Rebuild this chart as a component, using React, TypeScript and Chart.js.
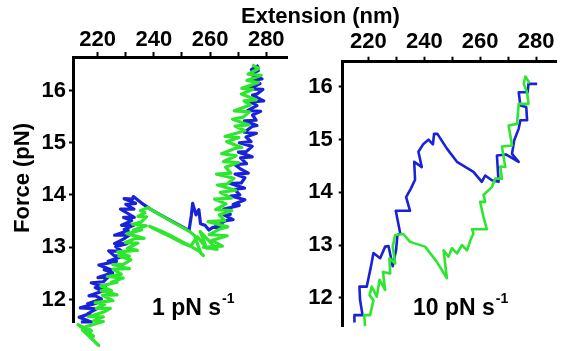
import React, { useEffect, useRef } from 'react';
import Chart from 'chart.js/auto';

const FONT = '"Liberation Sans", Arial, Helvetica, sans-serif';
const BLUE = '#1a22d8';
const GREEN = '#2ee62e';

const xTickValues = [220, 230, 240, 250, 260, 270, 280];
const yTickValues = [12, 13, 14, 15, 16];
const xTitle = 'Extension (nm)';
const yTitle = 'Force (pN)';
const slowLabel = '1 pN s';
const fastLabel = '10 pN s';
const supLabel = '-1';

// Left panel (1 pN/s): [extension nm, force pN]
const slowBlue: [number, number][] = [
  [214.0, 11.57], [217.7, 11.57], [213.4, 11.66], [217.2, 11.73], [216.5, 11.73], [219.6, 11.82], [213.8, 11.84], [219.5, 11.93],
  [216.4, 11.92], [221.3, 12.01], [219.2, 12.07], [216.9, 12.07], [221.6, 12.16], [219.1, 12.23], [222.8, 12.23], [217.7, 12.32],
  [222.0, 12.34], [223.7, 12.43], [220.1, 12.42], [225.3, 12.51], [222.3, 12.57], [224.7, 12.57], [220.4, 12.66], [226.7, 12.73],
  [223.7, 12.73], [228.4, 12.82], [225.8, 12.84], [223.9, 12.93], [228.7, 12.92], [226.4, 13.01], [230.4, 13.07], [226.0, 13.07],
  [229.3, 13.16], [231.2, 13.23], [226.0, 13.23], [230.9, 13.32], [229.4, 13.34], [233.1, 13.43], [228.5, 13.42], [232.1, 13.51],
  [229.2, 13.57], [233.0, 13.57], [230.3, 13.66], [228.1, 13.73], [232.9, 13.73], [230.0, 13.82], [233.5, 13.84], [229.4, 13.93],
  [232.4, 13.92], [232.7, 13.97],
  [235.5, 13.85], [239.0, 13.72], [243.0, 13.6], [247.0, 13.48], [250.5, 13.38], [252.5, 13.32], [253.3, 13.6], [253.8, 13.84],
  [255.0, 13.62], [256.0, 13.72], [256.6, 13.45], [258.2, 13.42], [259.6, 13.33], [261.0, 13.38],
  [265.3, 13.38], [261.9, 13.4], [265.6, 13.51], [268.2, 13.53], [264.9, 13.62], [267.2, 13.63], [264.9, 13.73], [270.4, 13.8],
  [268.2, 13.82], [272.4, 13.91], [267.4, 13.98], [270.6, 14.0], [268.6, 14.11], [272.3, 14.13], [267.2, 14.22], [271.1, 14.23],
  [272.4, 14.33], [268.9, 14.4], [273.6, 14.42], [270.5, 14.51], [268.9, 14.58], [273.0, 14.6], [270.8, 14.71], [275.0, 14.73],
  [270.1, 14.82], [272.9, 14.83], [275.0, 14.93], [270.4, 15.0], [274.6, 15.02], [272.8, 15.11], [276.5, 15.18], [272.2, 15.2],
  [275.0, 15.31], [276.7, 15.33], [272.2, 15.42], [276.4, 15.43], [275.1, 15.53], [278.0, 15.6], [273.4, 15.62], [276.7, 15.71],
  [274.5, 15.78], [279.1, 15.8], [275.1, 15.91], [276.7, 15.93], [278.8, 16.02], [274.0, 16.03], [277.8, 16.13], [275.5, 16.2],
  [278.5, 16.22], [274.4, 16.31], [277.2, 16.38], [274.7, 16.4], [277.3, 16.48],
];

const slowGreen: [number, number][] = [
  [216.0, 11.38], [219.5, 11.16], [220.4, 11.12], [214.5, 11.42], [218.5, 11.3], [213.0, 11.52], [217.8, 11.4],
  [215.7, 11.48], [222.0, 11.58], [218.5, 11.59], [222.0, 11.67], [216.7, 11.67], [222.1, 11.76], [224.5, 11.83], [219.5, 11.83],
  [222.5, 11.91], [219.1, 11.94], [225.4, 11.98], [221.7, 12.08], [226.9, 12.09], [221.2, 12.17], [224.9, 12.17], [221.1, 12.26],
  [226.9, 12.33], [224.8, 12.33], [229.1, 12.41], [223.4, 12.44], [228.4, 12.48], [225.5, 12.58], [231.3, 12.59], [225.3, 12.67],
  [229.0, 12.67], [231.8, 12.76], [227.5, 12.83], [231.3, 12.83], [227.1, 12.91], [234.1, 12.94], [230.6, 12.98], [234.3, 13.08],
  [229.8, 13.09], [233.5, 13.17], [236.5, 13.17], [230.4, 13.26], [235.6, 13.33], [232.7, 13.33], [237.3, 13.41], [232.4, 13.44],
  [235.4, 13.48], [237.4, 13.58], [234.3, 13.59], [236.8, 13.66], [235.2, 13.7], [237.9, 13.76],
  [240.5, 13.67], [243.5, 13.58], [247.0, 13.47], [250.5, 13.37], [253.0, 13.29], [254.5, 13.22], [255.6, 13.05], [256.8, 12.88],
  [257.6, 12.84], [256.2, 12.92], [253.0, 13.02], [249.5, 13.12], [246.0, 13.22], [242.5, 13.31], [239.5, 13.38], [238.5, 13.4],
  [241.0, 13.33], [244.5, 13.24], [248.0, 13.14], [251.0, 13.06], [253.0, 13.02],
  [255.5, 13.2], [258.8, 12.98], [256.5, 13.3], [262.5, 12.96],
  [257.6, 13.0], [264.4, 13.02], [260.6, 13.13], [266.1, 13.22], [259.7, 13.24], [263.5, 13.35], [266.3, 13.39], [259.3, 13.49],
  [265.2, 13.51], [263.3, 13.62], [267.7, 13.7], [262.0, 13.72], [265.7, 13.83], [261.6, 13.92], [267.6, 13.94], [263.6, 14.05],
  [269.1, 14.09], [262.6, 14.19], [266.1, 14.21], [268.5, 14.32], [262.3, 14.4], [267.4, 14.42], [265.5, 14.53], [270.1, 14.62],
  [264.8, 14.64], [269.3, 14.75], [264.1, 14.79], [268.8, 14.89], [271.3, 14.91], [265.9, 15.02], [270.3, 15.1], [265.3, 15.12],
  [272.4, 15.23], [268.9, 15.32], [273.9, 15.34], [268.0, 15.45], [271.8, 15.49], [274.0, 15.59], [268.6, 15.61], [274.3, 15.72],
  [272.1, 15.8], [276.4, 15.82], [271.1, 15.93], [275.2, 16.02], [271.3, 16.04], [277.2, 16.15], [273.1, 16.19], [278.2, 16.29],
  [273.5, 16.31], [277.3, 16.42], [275.0, 16.49],
];

// Right panel (10 pN/s)
const fastBlue: [number, number][] = [
  [215.0, 11.53], [215.0, 11.67], [217.9, 11.67], [217.0, 11.96], [216.8, 12.21], [219.4, 12.21], [220.9, 12.59], [221.8, 12.85],
  [224.2, 12.75], [226.0, 12.97], [227.2, 12.98], [228.7, 12.6], [229.9, 12.9], [230.4, 13.19], [231.4, 13.22], [229.8, 13.65],
  [234.9, 13.65], [233.5, 13.91], [235.2, 14.07], [236.7, 14.24], [236.4, 14.58], [239.1, 14.48], [237.9, 14.77], [239.7, 14.92],
  [241.5, 15.0], [243.1, 14.91], [243.5, 15.11], [244.7, 15.11], [248.1, 14.83], [251.7, 14.58], [257.6, 14.39], [260.6, 14.2],
  [261.8, 14.32], [264.2, 14.23], [266.6, 14.2], [266.0, 14.7], [269.2, 14.72], [273.8, 14.58], [271.4, 14.73], [272.2, 14.99],
  [273.8, 15.21], [274.4, 15.37], [276.8, 15.37], [276.5, 15.62], [274.4, 15.65], [273.8, 15.9], [277.0, 15.9], [277.3, 16.06],
  [280.4, 16.06],
];

const fastGreen: [number, number][] = [
  [218.8, 11.46], [218.5, 11.67], [220.6, 11.67], [221.8, 11.95], [220.4, 12.05], [221.2, 12.21], [223.0, 12.02], [224.0, 12.34],
  [226.0, 12.15], [225.2, 12.49], [227.8, 12.46], [227.5, 12.75], [229.6, 12.65], [228.7, 12.97], [229.6, 13.19], [232.5, 13.21],
  [234.9, 13.06], [240.3, 12.97], [244.5, 12.68], [248.1, 12.37], [246.9, 12.9], [248.7, 12.78], [249.9, 12.94], [251.7, 12.84],
  [253.5, 13.0], [255.3, 12.9], [256.5, 13.09], [257.6, 13.22], [257.1, 13.3], [262.4, 13.3], [261.2, 13.53], [260.0, 13.82],
  [261.8, 13.82], [261.2, 13.95], [264.2, 14.1], [265.4, 14.26], [267.8, 14.26], [267.2, 14.49], [269.0, 14.48], [267.8, 14.87],
  [271.4, 14.89], [270.8, 15.08], [270.2, 15.27], [273.2, 15.3], [273.8, 15.68], [277.3, 15.68], [276.8, 15.9], [275.6, 16.06],
  [276.2, 16.2], [277.7, 16.07],
];

const panelText = {
  id: 'panelText',
  afterDraw(chart: any, _args: any, o: any) {
    const ctx = chart.ctx;
    ctx.save();
    ctx.fillStyle = '#000';
    ctx.textAlign = 'left';
    ctx.textBaseline = 'alphabetic';
    ctx.font = `bold 23px ${FONT}`;
    ctx.fillText(o.text, o.x, o.y);
    const w = ctx.measureText(o.text).width;
    ctx.font = `bold 14px ${FONT}`;
    ctx.fillText(o.sup, o.x + w + 1, o.y - 12);
    if (o.title) {
      ctx.translate(o.titleX, o.titleY);
      ctx.rotate(-Math.PI / 2);
      ctx.font = `bold 22px ${FONT}`;
      ctx.textAlign = 'center';
      ctx.fillText(o.title, 0, 0);
    }
    ctx.restore();
  },
};

type PanelProps = {
  left: number;
  width: number;
  blue: [number, number][];
  green: [number, number][];
  xRange: [number, number];
  yRange: [number, number];
  axisW: number;
  axisH: number;
  padRight: number;
  padBottom: number;
  yPad: number;
  xPad: number;
  lineW: number;
  text: any;
};

function Panel(p: PanelProps) {
  const ref = useRef<HTMLCanvasElement>(null);
  useEffect(() => {
    const tickFont = { family: FONT, size: 22, weight: 'bold' as const };
    const ds = (d: [number, number][], color: string) => ({
      data: d.map(([x, y]) => ({ x, y })),
      showLine: true,
      borderColor: color,
      backgroundColor: color,
      borderWidth: p.lineW,
      borderJoinStyle: 'round' as const,
      pointRadius: 0,
      pointHoverRadius: 0,
      tension: 0,
      fill: false,
      clip: false as any,
    });
    const chart = new Chart(ref.current as HTMLCanvasElement, {
      type: 'scatter',
      data: { datasets: [ds(p.green, GREEN), ds(p.blue, BLUE)] },
      options: {
        responsive: false,
        animation: false,
        events: [],
        layout: { padding: { left: 0, top: 0, right: p.padRight, bottom: p.padBottom } },
        plugins: { legend: { display: false }, tooltip: { enabled: false }, panelText: p.text } as any,
        scales: {
          x: {
            type: 'linear',
            position: 'top',
            min: p.xRange[0],
            max: p.xRange[1],
            afterBuildTicks: (s: any) => { s.ticks = xTickValues.map((v) => ({ value: v })); },
            afterFit: (s: any) => { s.height = p.axisH; },
            ticks: {
              autoSkip: false, maxRotation: 0, minRotation: 0, padding: p.xPad, color: '#000', font: tickFont,
              callback: (v: any) => (Number(v) % 20 === 0 ? String(v) : ''),
            },
            grid: { drawOnChartArea: false, drawTicks: true, tickLength: 5, tickWidth: 2, color: '#000' },
            border: { display: true, color: '#000', width: 3 },
          },
          y: {
            type: 'linear',
            position: 'left',
            min: p.yRange[0],
            max: p.yRange[1],
            afterBuildTicks: (s: any) => { s.ticks = yTickValues.map((v) => ({ value: v })); },
            afterFit: (s: any) => { s.width = p.axisW; },
            ticks: { padding: p.yPad, color: '#000', font: tickFont, callback: (v: any) => String(v) },
            grid: { drawOnChartArea: false, drawTicks: true, tickLength: 4, tickWidth: 2, color: '#000' },
            border: { display: true, color: '#000', width: 3 },
          },
        },
      },
      plugins: [panelText],
    } as any);
    return () => chart.destroy();
  }, []);
  return (
    <canvas
      ref={ref}
      width={p.width}
      height={351}
      style={{ position: 'absolute', left: p.left, top: 0, width: p.width, height: 351 }}
    />
  );
}

export default function App() {
  return (
    <div style={{ position: 'absolute', left: 0, top: 0, width: 564, height: 351, background: '#fff', overflow: 'hidden' }}>
      <Panel
        left={0}
        width={300}
        blue={slowBlue}
        green={slowGreen}
        xRange={[211.2, 287.6]}
        yRange={[11.57, 16.64]}
        axisW={73}
        axisH={57}
        padRight={12.4}
        padBottom={29}
        yPad={3}
        xPad={-1}
        lineW={3.2}
        text={{ text: slowLabel, sup: supLabel, x: 152, y: 315, title: yTitle, titleX: 28.5, titleY: 178 }}
      />
      <Panel
        left={300}
        width={264}
        blue={fastBlue}
        green={fastGreen}
        xRange={[210.8, 287.4]}
        yRange={[11.45, 16.48]}
        axisW={42.7}
        axisH={61.7}
        padRight={7.3}
        padBottom={24.3}
        yPad={6}
        xPad={2}
        lineW={2.6}
        text={{ text: fastLabel, sup: supLabel, x: 113, y: 315, title: '' }}
      />
      <div
        style={{
          position: 'absolute', left: 0, top: 5, width: 641, textAlign: 'center',
          font: `bold 22px ${FONT}`, lineHeight: '22px', color: '#000', whiteSpace: 'nowrap',
        }}
      >
        {xTitle}
      </div>
    </div>
  );
}
